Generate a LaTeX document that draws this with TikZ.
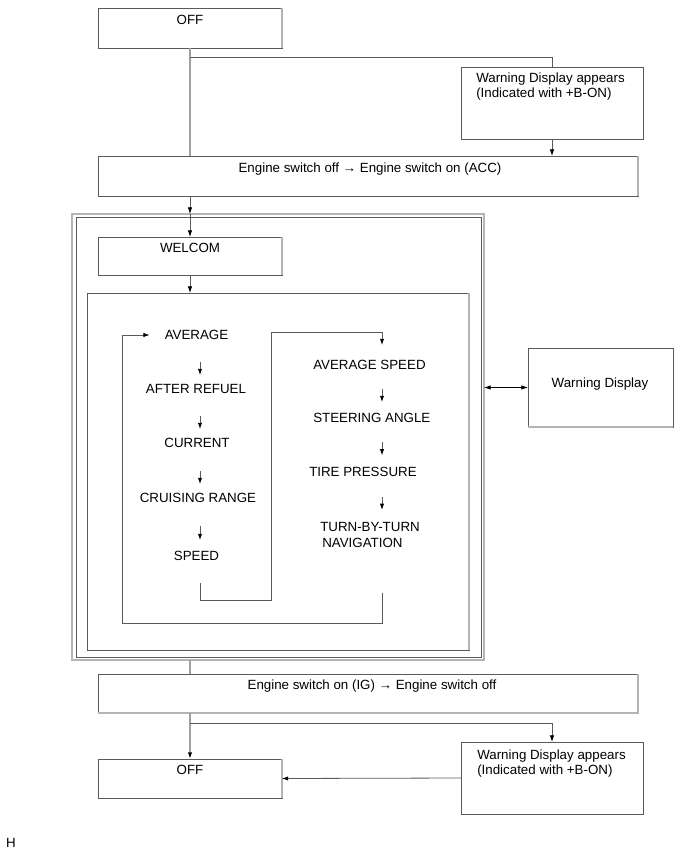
\documentclass[tikz,border=0pt]{standalone}
\usepackage{fontspec}
\setmainfont{Liberation Sans}
\usetikzlibrary{arrows.meta,fit}
\definecolor{boxc}{HTML}{5A5A5A}
\definecolor{lite}{HTML}{B4B4B4}
\definecolor{connc}{HTML}{A0A0A0}
\begin{document}
\begin{tikzpicture}[x=0.75pt,y=-0.75pt,
  box/.style={draw=boxc, line width=0.6pt, inner sep=0pt, outer sep=0pt, fit={#1}},
  liteedge/.style={draw=lite, line width=0.9pt},
  lbl/.style={inner sep=0pt, text height=7.2pt, text depth=0pt,
    font=\fontsize{10pt}{11.3pt}\selectfont},
  mlbl/.style={inner sep=0pt, anchor=north west, align=left,
    font=\fontsize{10pt}{11.3pt}\selectfont},
  vline/.style={draw=connc, line width=1pt},
  hline/.style={draw=boxc, line width=0.6pt},
  arr/.style={-{Latex[length=5pt,width=3.4pt,color=black]}},
  tiny/.style={-{Latex[length=4.6pt,width=3.2pt,color=black]}}]
\useasboundingbox (0,0) rectangle (689,854);

% ---- top part
\node[box={(98,8) (282,48)}] (off1) {};
\node[lbl] (off1t) at (190,20) {OFF};
\node[box={(461,67) (643,139)}] (warn1) {};
\node[mlbl] (warn1t) at (476,72.6)
  {Warning Display appears\\(Indicated with +B-ON)};
\node[box={(98,156) (638,196)}] (eng1) {};
\node[lbl] (eng1t) at (370,168) {Engine switch off → Engine switch on (ACC)};

% ---- double frame
\node[box={(72,214) (484,660)}, draw=lite, line width=0.9pt] (outerF) {};
\node[box={(76,217) (481,657)}] (innerF) {};
\node[box={(98,237) (282,275)}] (wel) {};
\node[lbl] (welt) at (190,248) {WELCOM};
\node[box={(87,293) (469,650)}] (inbox) {};

% ---- left column
\coordinate (colL) at (200,0);
\coordinate (colR) at (382,0);
\node[lbl] (avg) at (196.5,335) {AVERAGE};
\node[lbl] (aft) at (196,389) {AFTER REFUEL};
\node[lbl] (cur) at (197,443) {CURRENT};
\node[lbl] (cru) at (198,498) {CRUISING RANGE};
\node[lbl] (spd) at (196.5,556) {SPEED};

% ---- right column
\node[lbl, anchor=west] (avs) at (313,365) {AVERAGE SPEED};
\node[lbl, anchor=west] (ste) at (313,418) {STEERING ANGLE};
\node[lbl, anchor=west] (tir) at (309,472) {TIRE PRESSURE};
\node[mlbl] (tbt) at (320,521.6)
  {TURN-BY-TURN\\[0.7pt]\hspace*{1.5pt}NAVIGATION};

% ---- warning display
\node[box={(528,348) (673,427)}] (wd) {};
\node[lbl] (wdt) at (600,383) {Warning Display};

% ---- bottom part
\node[box={(98,674) (638,713)}] (eng2) {};
\node[lbl] (eng2t) at (372,685) {Engine switch on (IG) → Engine switch off};
\node[box={(98,759) (282,798)}] (off2) {};
\node[lbl] (off2t) at (190,770) {OFF};
\node[box={(461,742) (643,814)}] (warn2) {};
\node[mlbl] (warn2t) at (477,749.6)
  {Warning Display appears\\(Indicated with +B-ON)};
\node[lbl] (hmark) at (11,843) {H};

% ---- lighter right / bottom edges
\draw[liteedge] (off1.north east) -- (off1.south east);
\draw[liteedge] (eng1.north east) -- (eng1.south east);
\draw[liteedge] (wel.north east) -- (wel.south east);
\draw[liteedge] (inbox.north east) -- (inbox.south east);
\draw[liteedge] (wd.south west) -- (wd.south east);
\draw[liteedge] (eng2.north east) -- (eng2.south east) -- (eng2.south west);
\draw[liteedge] (off2.north east) -- (off2.south east);

% ---- connectors top
\coordinate (br1) at (190,57);
\draw[vline] (off1.south) -- (eng1.north -| off1);
\draw[hline] (br1) -| (warn1.north);
\draw[hline, arr] (warn1.south) -- (eng1.north -| warn1);
\draw[hline, arr] (eng1.south -| off1) -- (outerF.north -| off1);
\draw[hline, arr] (outerF.north -| off1) -- (wel.north);
\draw[hline, arr] (wel.south) -- (inbox.north -| wel);

% ---- column arrows
\draw[hline, tiny, shorten <=20.2pt, shorten >=10.5pt] (avg -| colL) -- (aft -| colL);
\draw[hline, tiny, shorten <=20.2pt, shorten >=10.5pt] (aft -| colL) -- (cur -| colL);
\draw[hline, tiny, shorten <=21pt, shorten >=10.5pt] (cur -| colL) -- (cru -| colL);
\draw[hline, tiny, shorten <=21pt, shorten >=12pt] (cru -| colL) -- (spd -| colL);
\draw[hline, tiny, shorten <=18pt, shorten >=12pt] (avs -| colR) -- (ste -| colR);
\draw[hline, tiny, shorten <=18pt, shorten >=12.5pt] (ste -| colR) -- (tir -| colR);
\draw[hline, tiny, shorten <=18.8pt, shorten >=8.8pt] (tir -| colR) -- (tbt.north west -| colR);

% ---- SPEED -> AVERAGE SPEED
\coordinate (spdOut) at (200,583);
\coordinate (jA) at (271,600);
\coordinate (jB) at (271,332);
\draw[hline, tiny, shorten >=15pt] (spdOut) |- (jA) -- (jB) -| (avs -| colR);

% ---- loop back to AVERAGE
\coordinate (loopS) at (382,593);
\coordinate (lb) at (122,623);
\draw[hline, tiny, shorten >=11.2pt] (loopS) |- (lb) |- (avg);

% ---- double arrow to warning display
\draw[hline, draw=black, {Latex[length=5pt,width=3.4pt]}-{Latex[length=5pt,width=3.4pt]}]
  (outerF.east |- wd) -- (wd.west);

% ---- connectors bottom
\coordinate (br2) at (190,723);
\draw[vline] (outerF.south -| off1) -- (eng2.north -| off1);
\draw[vline, arr] (eng2.south -| off1) -- (off2.north);
\draw[hline, arr] (br2) -| (warn2.north);
\draw[hline, tiny] (warn2.west) -- (off2.east);
\end{tikzpicture}
\end{document}
